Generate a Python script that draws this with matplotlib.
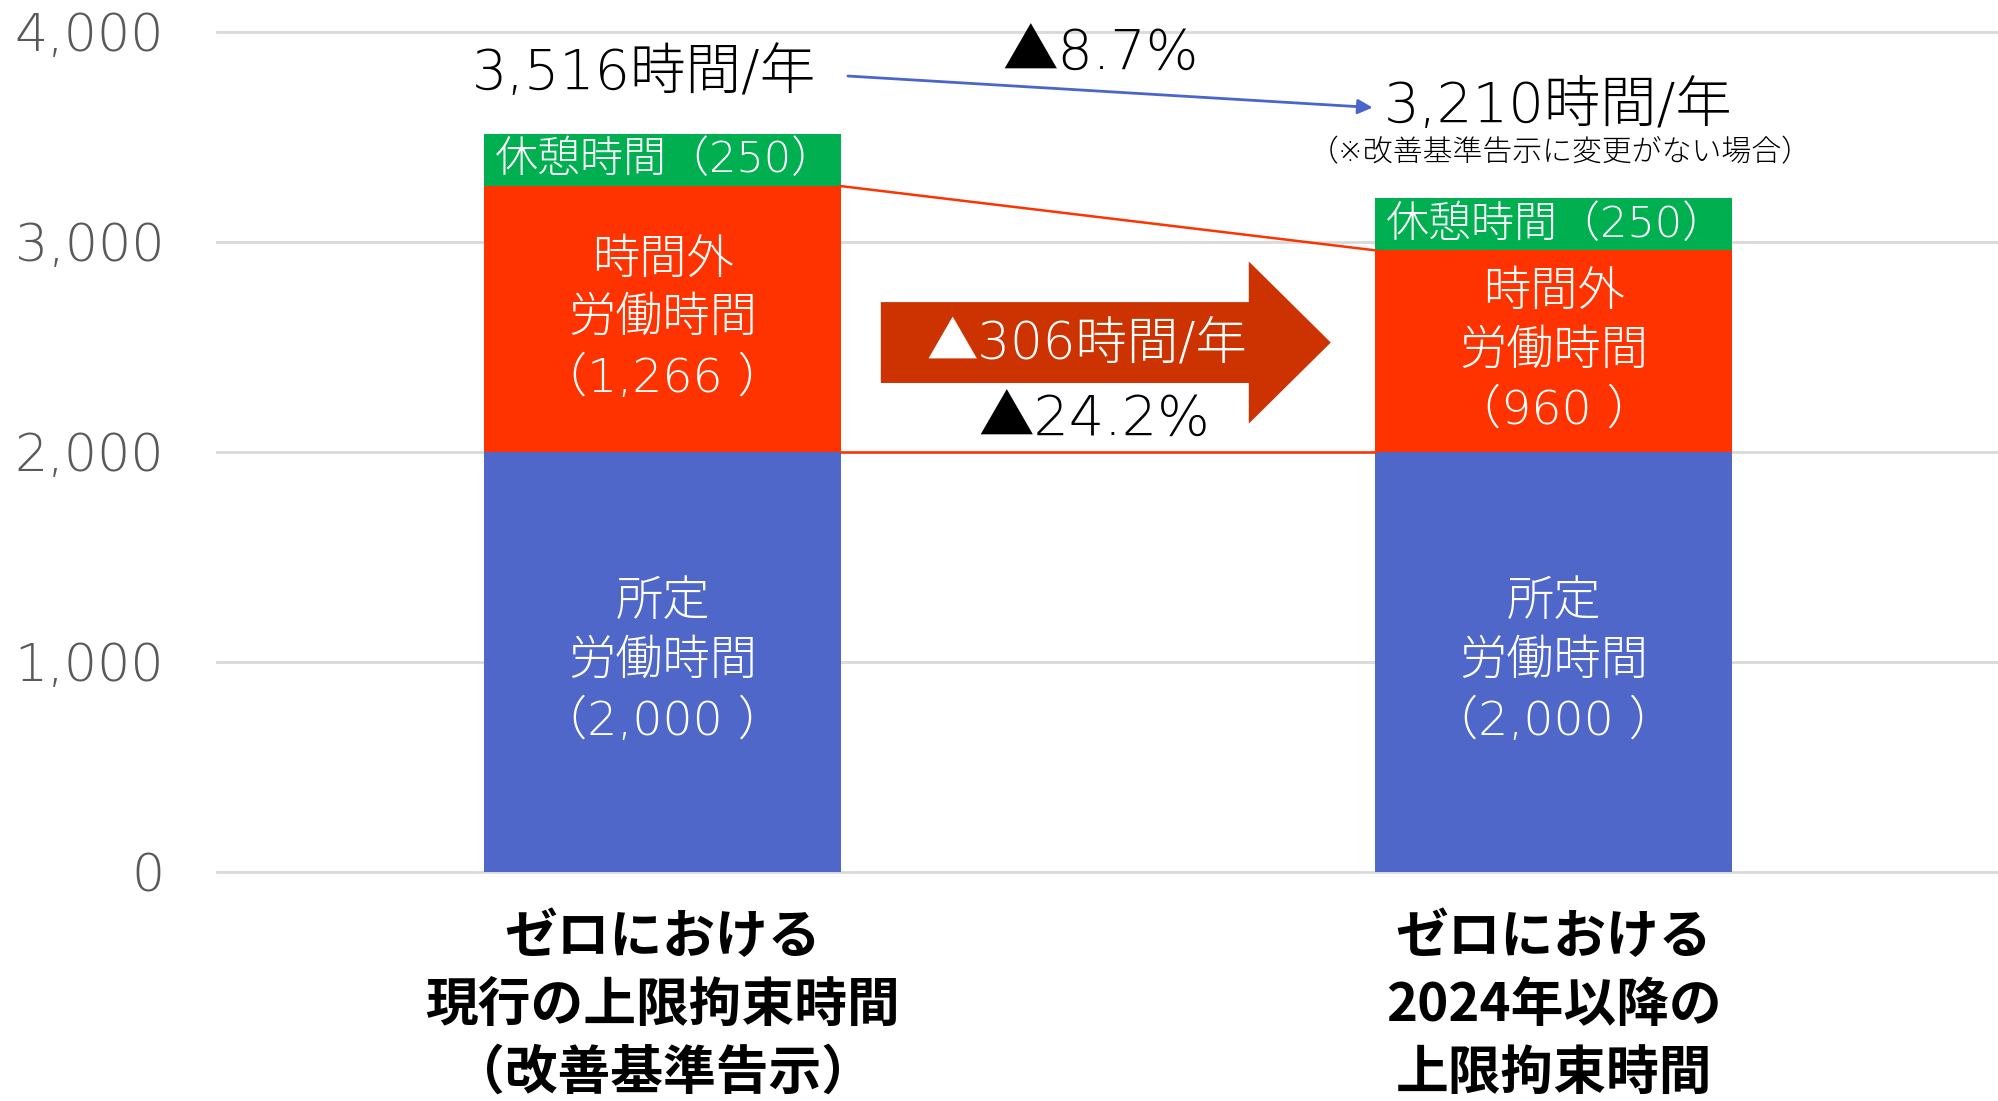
import matplotlib
matplotlib.use('Agg')
import matplotlib.pyplot as plt
from matplotlib.patches import FancyArrow

plt.rcParams['font.family'] = ['DejaVu Sans', 'Noto Sans CJK JP']
FAM = ['DejaVu Sans', 'Noto Sans CJK JP']
FAM_BOLD = ['Noto Sans CJK JP', 'DejaVu Sans']

# ---- data ----
categories = ['ゼロにおける\n現行の上限拘束時間\n（改善基準告示）',
              'ゼロにおける\n2024年以降の\n上限拘束時間']
scheduled = [2000, 2000]
overtime = [1266, 960]
breaks = [250, 250]
totals = [3516, 3210]
yticks = [0, 1000, 2000, 3000, 4000]
ytick_labels = ['0', '1,000', '2,000', '3,000', '4,000']
scheduled_labels = ['所定\n労働時間\n（2,000 ）', '所定\n労働時間\n（2,000 ）']
overtime_labels = ['時間外\n労働時間\n（1,266 ）', '時間外\n労働時間\n（960 ）']
break_labels = ['休憩時間（250）', '休憩時間（250）']
total_labels = ['3,516時間/年', '3,210時間/年']
note_label = '（※改善基準告示に変更がない場合）'
total_change = '▲8.7%'
overtime_change_hours = '▲306時間/年'
overtime_change_pct = '▲24.2%'

# ---- style ----
C_BLUE = '#4F67C8'
C_RED = '#FF3300'
C_GREEN = '#00B050'
C_ARROW = '#CC3300'
C_LINE_BLUE = '#4A66CC'

fig = plt.figure(figsize=(19.99, 11.01), dpi=100)
ax = fig.add_axes([0.1086, 0.208, 0.8914, 0.763])

x = [0, 1]
w = 0.4
bottoms2 = [s + o for s, o in zip(scheduled, overtime)]
ax.bar(x, scheduled, w, color=C_BLUE, zorder=2)
ax.bar(x, overtime, w, bottom=scheduled, color=C_RED, zorder=2)
ax.bar(x, breaks, w, bottom=bottoms2, color=C_GREEN, zorder=2)

ax.set_xlim(-0.5, 1.5)
ax.set_ylim(0, 4000)
ax.set_yticks(yticks)
ax.set_yticklabels(ytick_labels, fontsize=37.5, color='#595959',
                   family=FAM, fontweight='light')
ax.set_xticks(x)
ax.set_xticklabels(categories, fontsize=38, fontweight='bold', color='black',
                   family=FAM_BOLD)
for lab in ax.get_xticklabels():
    lab.set_linespacing(1.36)
ax.tick_params(axis='y', length=0, pad=38)
ax.tick_params(axis='x', length=0, pad=28)
for sp in ax.spines.values():
    sp.set_visible(False)
ax.set_axisbelow(True)
ax.yaxis.grid(True, color='#D9D9D9', lw=2, clip_on=False)

TXT = dict(family=FAM, fontweight='light')

# segment labels
for i in range(2):
    ax.text(x[i] - w / 2 + 0.012, bottoms2[i] + breaks[i] / 2, break_labels[i],
            color='white', fontsize=31, ha='left', va='center', zorder=4, **TXT)
    ax.text(x[i], scheduled[i] + overtime[i] / 2, overtime_labels[i],
            color='white', fontsize=34, ha='center', va='center',
            linespacing=1.42, zorder=4, **TXT)
    ax.text(x[i], scheduled[i] / 2, scheduled_labels[i],
            color='white', fontsize=34, ha='center', va='center',
            linespacing=1.42, zorder=4, **TXT)

# connector lines between bars
ax.plot([x[0] + w / 2, x[1] - w / 2], [bottoms2[0], bottoms2[1]],
        color=C_RED, lw=1.8, zorder=3)
ax.plot([x[0] + w / 2, x[1] - w / 2], [scheduled[0], scheduled[1]],
        color=C_RED, lw=1.8, zorder=3)

# totals and arrow
ax.text(0.172, 3800, total_labels[0], fontsize=40, ha='right', va='center',
        color='black', **TXT)
ax.annotate('', xy=(0.797, 3640), xytext=(0.208, 3790),
            arrowprops=dict(arrowstyle='-|>', color=C_LINE_BLUE, lw=2,
                            mutation_scale=22, shrinkA=0, shrinkB=0))
ax.text(0.81, 3643, total_labels[1], fontsize=40.5, ha='left', va='center',
        color='black', **TXT)
ax.text(1.007, 3424, note_label, fontsize=21.5, ha='center', va='center',
        color='black', **TXT)
ax.text(0.492, 3890, total_change, fontsize=40, ha='center', va='center',
        color='black', **TXT)

# big arrow for overtime change
arrow = FancyArrow(0.245, 2521, 0.505, 0, width=385, head_width=772,
                   head_length=0.092, length_includes_head=True,
                   color=C_ARROW, lw=0, zorder=3)
ax.add_patch(arrow)
ax.text(0.476, 2514, overtime_change_hours, fontsize=37, ha='center',
        va='center', color='white', zorder=4, **TXT)
ax.text(0.485, 2148, overtime_change_pct, fontsize=40, ha='center',
        va='center', color='black', zorder=4, **TXT)

fig.savefig('out.png', dpi=100)
